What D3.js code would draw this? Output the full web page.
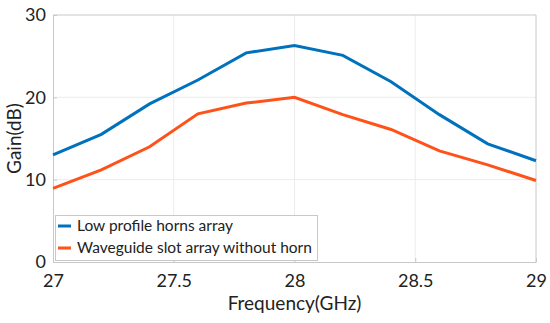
<!DOCTYPE html>
<html lang="en">
<head>
<meta charset="utf-8">
<title>Gain vs Frequency</title>
<script src="https://d3js.org/d3.v7.min.js"></script>
<style>
  body { margin: 0; background: #fff; }
  text { font-family: Lato, "Open Sans", sans-serif; fill: #222; }
</style>
</head>
<body>
<div id="canvas"></div>
<script>
const freq = [27, 27.2, 27.4, 27.6, 27.8, 28, 28.2, 28.4, 28.6, 28.8, 29]
const hornGain = [13.0, 15.5, 19.2, 22.1, 25.4, 26.3, 25.1, 21.9, 17.9, 14.35, 12.3]
const slotGain = [8.95, 11.2, 14.0, 18.0, 19.3, 20.0, 17.9, 16.1, 13.5, 11.8, 9.9]
const xTicks = [27, 27.5, 28, 28.5, 29]
const yTicks = [0, 10, 20, 30]
const seriesNames = ["Low profile horns array", "Waveguide slot array without horn"]

const width = 550
const height = 323
const margin = {left: 53, right: 14, top: 15, bottom: 61}

const svg = d3.select("#canvas").append("svg")
  .attr("width", width)
  .attr("height", height)

const x = d3.scaleLinear().domain([27, 29]).range([margin.left, width - margin.right])
const y = d3.scaleLinear().domain([0, 30]).range([height - margin.bottom, margin.top])

// grid
svg.append("g").selectAll("line").data(xTicks.slice(1, -1)).join("line")
  .attr("x1", d => x(d)).attr("x2", d => x(d))
  .attr("y1", y(0)).attr("y2", y(30))
  .attr("stroke", "#ececec").attr("stroke-width", 1)
svg.append("g").selectAll("line").data(yTicks.slice(1, -1)).join("line")
  .attr("x1", x(27)).attr("x2", x(29))
  .attr("y1", d => y(d)).attr("y2", d => y(d))
  .attr("stroke", "#ececec").attr("stroke-width", 1)

// axes
const xAxis = svg.append("g")
  .attr("transform", `translate(0,${y(0)})`)
  .call(d3.axisBottom(x).tickValues(xTicks).tickFormat(d3.format("")).tickSizeInner(-4).tickSizeOuter(0).tickPadding(12))
const yAxis = svg.append("g")
  .attr("transform", `translate(${x(27)},0)`)
  .call(d3.axisLeft(y).tickValues(yTicks).tickSizeInner(-4).tickSizeOuter(0).tickPadding(7))
for (const a of [xAxis, yAxis]) {
  a.select(".domain").attr("stroke", "#c8c8c8")
  a.selectAll(".tick line").attr("stroke", "#c8c8c8")
  a.selectAll(".tick text").attr("font-size", 18).attr("fill", "#222")
    .style("font-family", "Lato, 'Open Sans', sans-serif")
}

// box top/right
svg.append("path")
  .attr("d", `M${x(27)},${y(30)}H${x(29)}V${y(0)}`)
  .attr("fill", "none").attr("stroke", "#c8c8c8")

// lines
const line = d3.line().x((d, i) => x(freq[i])).y(d => y(d))
const colors = ["#0072BD", "#FF5218"]
svg.append("path").datum(hornGain).attr("d", line)
  .attr("fill", "none").attr("stroke", colors[0]).attr("stroke-width", 3)
svg.append("path").datum(slotGain).attr("d", line)
  .attr("fill", "none").attr("stroke", colors[1]).attr("stroke-width", 3)

// axis titles
svg.append("text")
  .attr("x", (x(27) + x(29)) / 2).attr("y", 310)
  .attr("text-anchor", "middle").attr("font-size", 19)
  .text("Frequency(GHz)")
svg.append("text")
  .attr("transform", `translate(21,${(y(0) + y(30)) / 2}) rotate(-90)`)
  .attr("text-anchor", "middle").attr("font-size", 19)
  .text("Gain(dB)")

// legend
const lg = svg.append("g")
lg.append("rect")
  .attr("x", 55.5).attr("y", 215.5).attr("width", 262).attr("height", 45)
  .attr("fill", "#fff").attr("stroke", "#c8c8c8")
seriesNames.forEach((name, i) => {
  const cy = 226 + i * 22
  lg.append("line")
    .attr("x1", 58).attr("x2", 71).attr("y1", cy).attr("y2", cy)
    .attr("stroke", colors[i]).attr("stroke-width", 3)
  lg.append("text")
    .attr("x", 77).attr("y", cy).attr("dy", "0.35em")
    .attr("font-size", 15.5)
    .text(name)
})
</script>
</body>
</html>
